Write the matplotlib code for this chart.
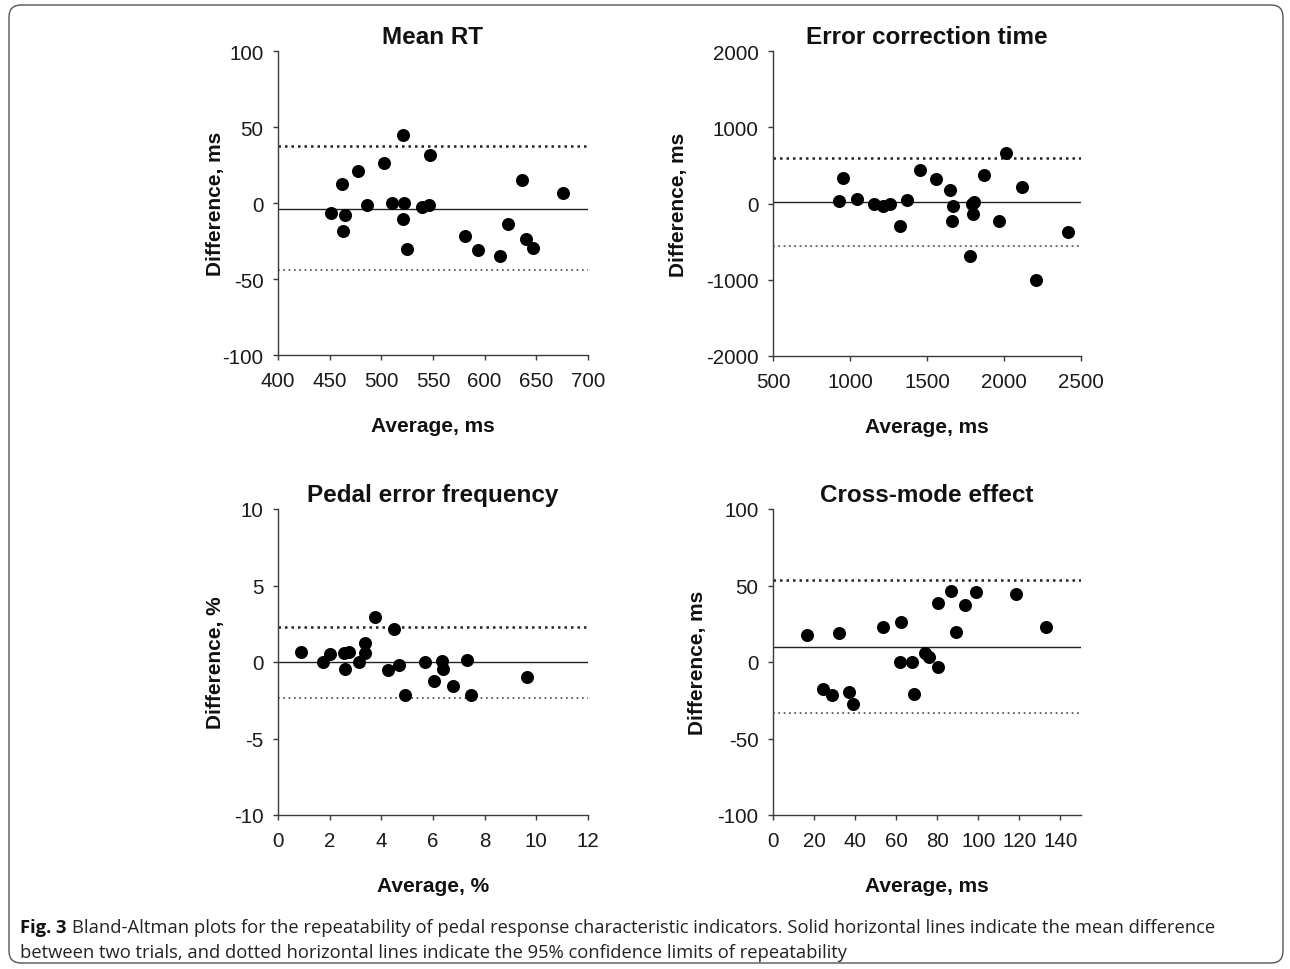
import matplotlib
matplotlib.use("Agg")
import matplotlib.pyplot as plt
from matplotlib import font_manager
from matplotlib.patches import FancyBboxPatch
from matplotlib.transforms import IdentityTransform

plt.rcParams['font.family'] = ['Liberation Sans', 'DejaVu Sans']
plt.rcParams['axes.unicode_minus'] = False

# Mean RT
rt_avg = [451, 462, 465, 463, 477, 486, 503, 510, 521, 522, 521, 525, 539, 546, 547,
          581, 594, 615, 623, 636, 640, 647, 676]
rt_diff = [-6.6, 12.5, -7.7, -18.6, 21, -1.1, 26, 0, 44.7, 0, -10.7, -30.5, -2.4, -1.1, 31.4,
           -22, -31, -35, -14, 15, -23.7, -29.6, 6.8]
rt_limits = [-4, 37.5, -44.3]  # mean, upper, lower

# Error correction time
ect_avg = [930, 956, 1047, 1158, 1216, 1257, 1325, 1372, 1454, 1556, 1651, 1669, 1664,
           1781, 1796, 1805, 1790, 1872, 1968, 2015, 2119, 2205, 2413]
ect_diff = [39, 334, 65, -9, -35, -5, -292, 52, 443, 321, 183, -35, -231,
            -691, -143, 21, 0, 373, -235, 660, 216, -1009, -374]
ect_limits = [21, 600, -553]

# Pedal error frequency
pef_avg = [0.88, 1.74, 2.0, 2.59, 2.55, 2.73, 3.12, 3.36, 3.38, 3.77, 4.24, 4.49, 4.69,
           4.92, 5.7, 6.03, 6.36, 6.37, 6.78, 7.32, 7.47, 9.62]
pef_diff = [0.63, 0, 0.54, -0.48, 0.57, 0.63, 0, 1.22, 0.61, 2.92, -0.52, 2.14, -0.2,
            -2.16, 0, -1.24, 0.08, -0.48, -1.57, 0.13, -2.16, -1.0]
pef_limits = [0, 2.29, -2.33]

# Cross-mode effect
cme_avg = [16.5, 24.3, 28.8, 32.1, 36.8, 39.1, 53.5, 61.8, 62.5, 67.8, 68.9, 73.9, 75.9,
           80.3, 80.3, 86.9, 89.2, 93.5, 99.0, 118.5, 132.9]
cme_diff = [17.7, -17.5, -21.4, 19, -19.3, -27.5, 22.7, 0, 26, 0, -20.8, 5.8, 3,
            38.5, -3, 46.5, 19.5, 37, 45.8, 44.5, 23]
cme_limits = [10.1, 53.4, -33.4]

fig = plt.figure(figsize=(12.9, 9.7), dpi=100)

panels = [
    # title, x, y, limits, xlim, xticks, ylim, yticks, xlabel, ylabel, rect, ylabel x
    ("Mean RT", rt_avg, rt_diff, rt_limits, (400, 700), range(400, 701, 50),
     (-100, 100), range(-100, 101, 50), "Average, ms", "Difference, ms",
     [278, 52, 588, 356], -0.171),
    ("Error correction time", ect_avg, ect_diff, ect_limits, (500, 2500), range(500, 2501, 500),
     (-2000, 2000), range(-2000, 2001, 1000), "Average, ms", "Difference, ms",
     [773, 52, 1081, 357], -0.276),
    ("Pedal error frequency", pef_avg, pef_diff, pef_limits, (0, 12), range(0, 13, 2),
     (-10, 10), range(-10, 11, 5), "Average, %", "Difference, %",
     [278, 510, 588, 816], -0.171),
    ("Cross-mode effect", cme_avg, cme_diff, cme_limits, (0, 150), range(0, 141, 20),
     (-100, 100), range(-100, 101, 50), "Average, ms", "Difference, ms",
     [773, 510, 1081, 816], -0.215),
]

W, H = 1290, 970
spine_col = "#3a3a3a"
for (title, xs, ys, lims, xlim, xticks, ylim, yticks, xlab, ylab, r, ylx) in panels:
    ax = fig.add_axes([r[0] / W, 1 - r[3] / H, (r[2] - r[0]) / W, (r[3] - r[1]) / H])
    ax.scatter(xs, ys, s=88, color="black", zorder=3, linewidths=0)
    ax.axhline(lims[0], color="#222222", lw=1.0)
    ax.axhline(lims[1], color="#222222", lw=1.8, ls=(0, (1, 1.6)))
    ax.axhline(lims[2], color="#444444", lw=1.2, ls=(0, (1, 2.2)))
    ax.set_xlim(*xlim)
    ax.set_ylim(*ylim)
    ax.set_xticks(list(xticks))
    ax.set_yticks(list(yticks))
    for s in ("top", "right"):
        ax.spines[s].set_visible(False)
    for s in ("left", "bottom"):
        ax.spines[s].set_color(spine_col)
        ax.spines[s].set_linewidth(1.0)
    ax.tick_params(direction="out", length=3.5, width=1.0, color=spine_col,
                   labelsize=14.8, labelcolor="#1a1a1a")
    ax.tick_params(axis="x", pad=8)
    ax.tick_params(axis="y", pad=7)
    ax.set_title(title, fontsize=17.5, fontweight="bold", pad=6, color="#111111")
    ax.set_xlabel(xlab, fontsize=15, fontweight="bold", labelpad=19, color="#111111")
    ax.set_ylabel(ylab, fontsize=15, fontweight="bold", color="#111111")
    ax.yaxis.set_label_coords(ylx, 0.5)

# frame around the figure
frame = FancyBboxPatch((9, 6), 1274, 958, boxstyle="round,pad=0,rounding_size=12",
                       transform=IdentityTransform(), facecolor="none",
                       edgecolor="#555555", lw=1.0)
fig.patches.append(frame)

# caption
names = {f.name for f in font_manager.fontManager.ttflist}
cap_font = "Liberation Sans Narrow" if "Liberation Sans Narrow" in names else "Open Sans"
cap_size = 13.2
t1 = fig.text(20 / W, 1 - 933 / H, "Fig. 3", fontsize=cap_size, fontweight="bold",
              family=cap_font, color="#111111", va="baseline")
fig.canvas.draw()
bb = t1.get_window_extent(fig.canvas.get_renderer())
fig.text((bb.x1 + 5) / W, 1 - 933 / H,
         "Bland-Altman plots for the repeatability of pedal response characteristic indicators. "
         "Solid horizontal lines indicate the mean difference",
         fontsize=cap_size, family=cap_font, color="#222222", va="baseline")
fig.text(20 / W, 1 - 958 / H,
         "between two trials, and dotted horizontal lines indicate the 95% confidence limits of repeatability",
         fontsize=cap_size, family=cap_font, color="#222222", va="baseline")

fig.savefig("out.png", dpi=100)
